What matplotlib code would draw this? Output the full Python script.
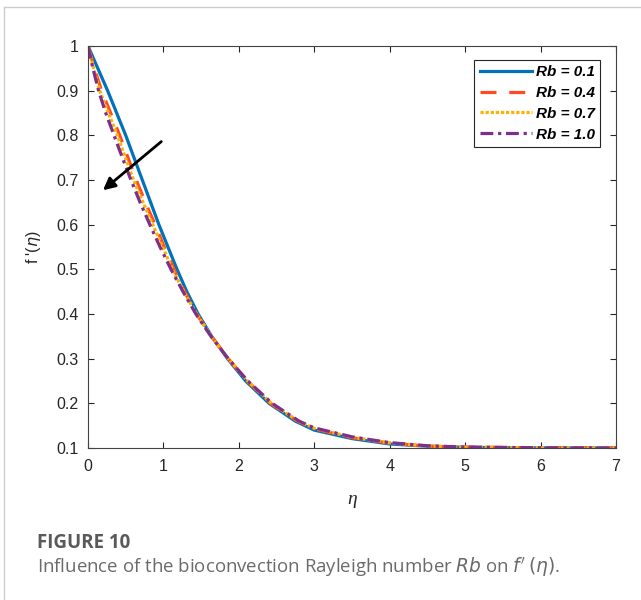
import matplotlib
matplotlib.use("Agg")
import matplotlib.pyplot as plt
from matplotlib.lines import Line2D

# f'(eta) curves, one pair of arrays per Rb value
eta_01 = [0, 0.13, 0.26, 0.38, 0.50, 0.61, 0.72, 0.83, 0.94, 1.06, 1.18, 1.31, 1.46, 1.64, 1.85, 2.09, 2.40, 2.75,
          3.0, 3.5, 4.0, 4.5, 5.0, 6.0, 7.0]
f_01 = [1.0, 0.95, 0.9, 0.85, 0.8, 0.75, 0.7, 0.65, 0.6, 0.55, 0.5, 0.45, 0.4, 0.35, 0.3, 0.25, 0.2, 0.16,
        0.140, 0.121, 0.109, 0.104, 0.1015, 0.1003, 0.1]

eta_04 = [0, 0.085, 0.18, 0.30, 0.42, 0.53, 0.64, 0.76, 0.89, 1.01, 1.14, 1.28, 1.44, 1.635, 1.86, 2.11, 2.42, 2.78,
          3.0, 3.5, 4.0, 4.5, 5.0, 6.0, 7.0]
f_04 = [1.0, 0.95, 0.9, 0.85, 0.8, 0.75, 0.7, 0.65, 0.6, 0.55, 0.5, 0.45, 0.4, 0.35, 0.3, 0.25, 0.2, 0.16,
        0.143, 0.123, 0.111, 0.104, 0.102, 0.1004, 0.1]

eta_07 = [0, 0.075, 0.155, 0.27, 0.39, 0.495, 0.605, 0.73, 0.86, 0.99, 1.12, 1.27, 1.44, 1.635, 1.86, 2.115, 2.43, 2.79,
          3.0, 3.5, 4.0, 4.5, 5.0, 6.0, 7.0]
f_07 = [1.0, 0.95, 0.9, 0.85, 0.8, 0.75, 0.7, 0.65, 0.6, 0.55, 0.5, 0.45, 0.4, 0.35, 0.3, 0.25, 0.2, 0.16,
        0.144, 0.124, 0.1115, 0.1045, 0.102, 0.1004, 0.1]

eta_10 = [0, 0.065, 0.14, 0.235, 0.345, 0.455, 0.57, 0.69, 0.82, 0.955, 1.10, 1.26, 1.43, 1.63, 1.86, 2.12, 2.44, 2.80,
          3.0, 3.5, 4.0, 4.5, 5.0, 6.0, 7.0]
f_10 = [1.0, 0.95, 0.9, 0.85, 0.8, 0.75, 0.7, 0.65, 0.6, 0.55, 0.5, 0.45, 0.4, 0.35, 0.3, 0.25, 0.2, 0.16,
        0.145, 0.125, 0.112, 0.105, 0.102, 0.1005, 0.1]

labels = ["Rb = 0.1", "Rb = 0.4", "Rb = 0.7", "Rb = 1.0"]
xticks = [0, 1, 2, 3, 4, 5, 6, 7]
yticks = [0.1, 0.2, 0.3, 0.4, 0.5, 0.6, 0.7, 0.8, 0.9, 1.0]
ytick_labels = ["0.1", "0.2", "0.3", "0.4", "0.5", "0.6", "0.7", "0.8", "0.9", "1"]

plt.rcParams["font.family"] = ["Liberation Sans", "DejaVu Sans"]

fig = plt.figure(figsize=(6.41, 6.0), dpi=100)
ax = fig.add_axes([88 / 641, 1 - 448 / 600, (616 - 88) / 641, (448 - 46) / 600])

ax.plot(eta_01, f_01, color="#0072BD", lw=2.3, ls="-", label=labels[0])
ax.plot(eta_04, f_04, color="#FF4B1F", lw=2.3, ls=(0, (5, 4)), label=labels[1])
ax.plot(eta_07, f_07, color="#FFB000", lw=2.3, ls=(0, (1, 0.6)), label=labels[2])
ax.plot(eta_10, f_10, color="#7E2F8E", lw=2.3, ls=(0, (4, 1.5, 1, 1.5)), label=labels[3])

ax.annotate("", xy=(0.17, 0.673), xytext=(1.0, 0.79),
            arrowprops=dict(arrowstyle="-|>", color="black", lw=2, mutation_scale=18))

ax.set_xlim(0, 7)
ax.set_ylim(0.1, 1.0)
ax.set_xticks(xticks)
ax.set_yticks(yticks)
ax.set_yticklabels(ytick_labels)
ax.tick_params(direction="in", top=True, right=True, length=4, width=0.8,
               labelsize=11.5, colors="#262626")
ax.tick_params(axis="x", pad=8)
ax.tick_params(axis="y", pad=7)
for s in ax.spines.values():
    s.set_color("#444444")
    s.set_linewidth(0.8)

ax.set_xlabel("η", fontsize=14, color="#262626", labelpad=12,
              family=["Liberation Serif", "DejaVu Serif"], style="italic")
ax.set_ylabel(r"f '($\eta$)", fontsize=11.5, color="#262626", labelpad=9)

leg = ax.legend(loc="upper right", handlelength=3.4, handletextpad=0.3,
                borderpad=0.35, labelspacing=0.45, fancybox=False, framealpha=1,
                edgecolor="#262626", prop={"weight": "bold", "style": "italic", "size": 11},
                bbox_to_anchor=(0.985, 0.985))
leg.get_frame().set_linewidth(0.8)

# caption under the chart
fig.text(37 / 641, 1 - 543 / 600, "FIGURE 10", fontsize=13.5, fontweight="bold",
         color="#5a5a5a", family=["Open Sans", "DejaVu Sans"], va="center")
fig.text(37 / 641, 1 - 567 / 600,
         r"Influence of the bioconvection Rayleigh number $\mathit{Rb}$ on $f'\,(\eta)$.",
         fontsize=13.4, color="#6a6a6a", family=["Open Sans", "DejaVu Sans"], va="center")

# light panel border
fig.add_artist(Line2D([4 / 641, 4 / 641], [0, 1 - 7 / 600], color="#cccccc", lw=1))
fig.add_artist(Line2D([4 / 641, 1], [1 - 7 / 600, 1 - 7 / 600], color="#cccccc", lw=1))

fig.savefig("out.png", dpi=100)
